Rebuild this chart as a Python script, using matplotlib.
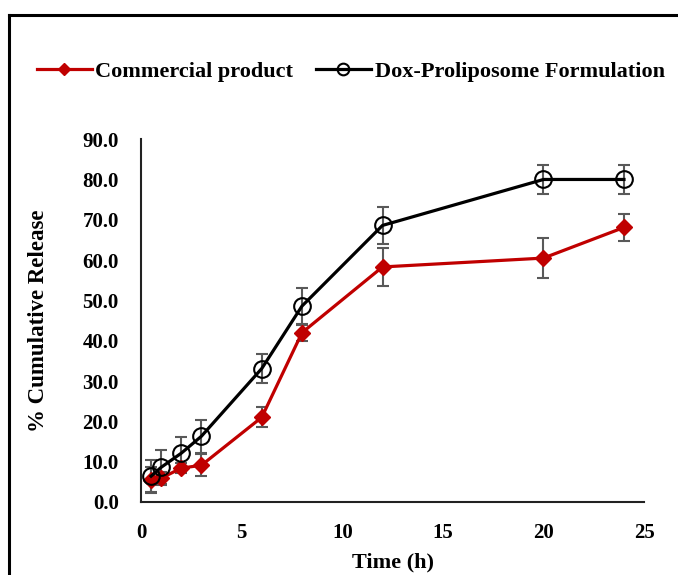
import numpy as np
import matplotlib
matplotlib.use('Agg')
import matplotlib.pyplot as plt
from matplotlib.lines import Line2D

# data
time = [0.5, 1, 2, 3, 6, 8, 12, 20, 24]
commercial = [5.4, 5.9, 8.4, 9.1, 21.0, 42.0, 58.3, 60.5, 68.1]
commercial_err = [3.2, 1.6, 1.2, 2.7, 2.5, 2.0, 4.8, 4.9, 3.4]
prolipo = [6.4, 8.6, 12.1, 16.3, 33.1, 48.6, 68.6, 80.0, 80.0]
prolipo_err = [4.0, 4.2, 3.9, 4.1, 3.7, 4.5, 4.6, 3.6, 3.7]

plt.rcParams['font.family'] = ['Liberation Serif', 'DejaVu Serif']
plt.rcParams['font.weight'] = 'bold'

fig = plt.figure(figsize=(6.78, 5.75), dpi=100)
ax = fig.add_axes([0.208, 0.127, 0.742, 0.631])

red = '#C00000'
ax.errorbar(time, commercial, yerr=commercial_err, fmt='none', ecolor='#595959',
            elinewidth=1.5, capsize=4, capthick=1.5, zorder=2)
ax.errorbar(time, prolipo, yerr=prolipo_err, fmt='none', ecolor='#595959',
            elinewidth=1.5, capsize=4, capthick=1.5, zorder=2)
ax.plot(time, commercial, color=red, lw=2.3, marker='D', ms=8.5,
        mfc=red, mec=red, zorder=3, label='Commercial product')
ax.plot(time, prolipo, color='black', lw=2.3, marker='o', ms=12,
        mfc='none', mec='black', mew=1.5, zorder=4, label='Dox-Proliposome Formulation')

ax.set_xlim(0, 25)
ax.set_ylim(0, 90)
ax.set_xticks([0, 5, 10, 15, 20, 25])
ax.set_yticks(np.arange(0, 91, 10))
ax.set_yticklabels(['%.1f' % v for v in np.arange(0, 91, 10)])
ax.tick_params(length=0, labelsize=15, pad=15)
ax.tick_params(axis='y', pad=16)
for s in ['top', 'right']:
    ax.spines[s].set_visible(False)
for s in ['left', 'bottom']:
    ax.spines[s].set_linewidth(1.5)
    ax.spines[s].set_color('#222222')

ax.set_xlabel('Time (h)', fontsize=16, fontweight='bold', labelpad=7)
ax.set_ylabel('% Cumulative Release', fontsize=16.5, fontweight='bold', labelpad=24)

fig.legend(loc='center', bbox_to_anchor=(0.517, 0.875), ncol=2, frameon=False,
           fontsize=16, handlelength=2.5, columnspacing=1.0, handletextpad=0.15,
           markerscale=0.7)

# outer frame lines
fig.add_artist(Line2D([0.014, 0.014], [0, 0.974], color='black', lw=2.2,
                      transform=fig.transFigure))
fig.add_artist(Line2D([0.014, 1.0], [0.974, 0.974], color='black', lw=2.2,
                      transform=fig.transFigure))

fig.savefig('out.png', dpi=100)
